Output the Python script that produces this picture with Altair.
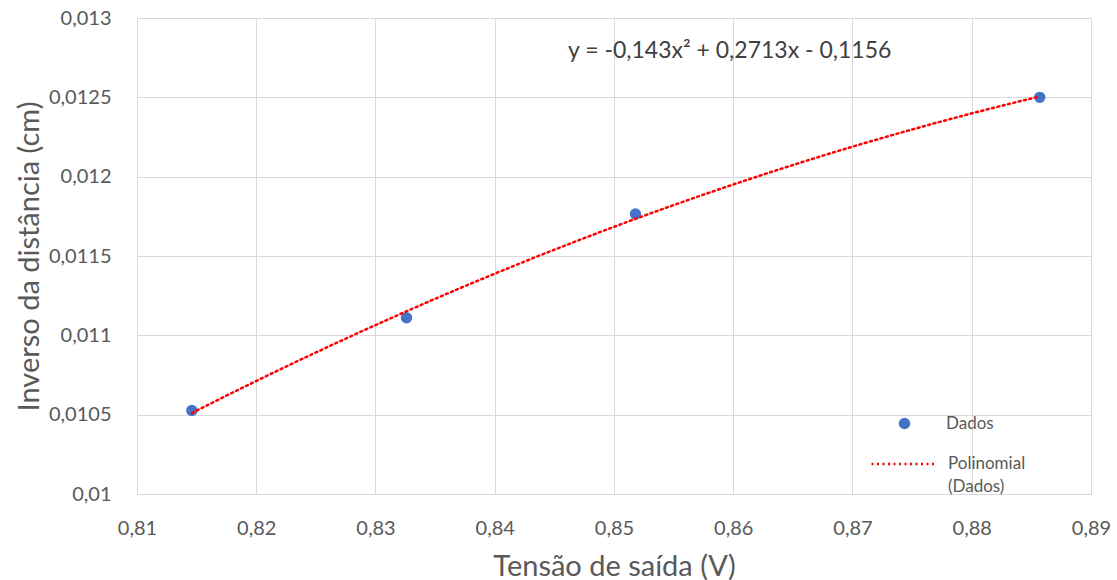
import altair as alt
import pandas as pd

tensao = [0.8146, 0.8326, 0.8518, 0.8857]
inverso = [0.010526, 0.011111, 0.011765, 0.0125]
x_ticks = [0.81, 0.82, 0.83, 0.84, 0.85, 0.86, 0.87, 0.88, 0.89]
y_ticks = [0.01, 0.0105, 0.011, 0.0115, 0.012, 0.0125, 0.013]
equacao = "y = -0,143x² + 0,2713x - 0,1156"
eq_pos = [0.8597, 0.012795]

df = pd.DataFrame({"x": tensao, "y": inverso, "serie": "Dados"})
eq_df = pd.DataFrame({"x": [eq_pos[0]], "y": [eq_pos[1]], "t": [equacao]})

FONT = "Lato"
GRAY = "#595959"

xs = alt.Scale(domain=[0.81, 0.89], nice=False, zero=False)
ys = alt.Scale(domain=[0.01, 0.013], nice=False, zero=False)

xaxis = alt.Axis(values=x_ticks, labelExpr="replace(format(datum.value, '.2f'), '.', ',')",
                 title="Tensão de saída (V)", titleFontSize=29, titleFont=FONT, titleColor=GRAY,
                 titleFontWeight="normal", titlePadding=14,
                 labelFont=FONT, labelFontSize=20, labelColor=GRAY, labelPadding=24, labelFlush=False,
                 ticks=False, grid=True, gridColor="#d9d9d9", domainColor="#d9d9d9")
yaxis = alt.Axis(values=y_ticks, labelExpr="replace(format(datum.value, '.4~f'), '.', ',')",
                 title="Inverso da distância (cm)", titleFontSize=29, titleFont=FONT, titleColor=GRAY,
                 titleFontWeight="normal", titlePadding=4,
                 labelFont=FONT, labelFontSize=20, labelColor=GRAY, labelPadding=26, labelFlush=False,
                 ticks=False, grid=True, gridColor="#d9d9d9", domain=False)

points = alt.Chart(df).mark_circle(size=130, opacity=1).encode(
    x=alt.X("x:Q", scale=xs, axis=xaxis),
    y=alt.Y("y:Q", scale=ys, axis=yaxis),
    color=alt.Color("serie:N", scale=alt.Scale(domain=["Dados"], range=["#4472C4"]),
                    legend=alt.Legend(title=None, orient="none", legendX=759, legendY=397,
                                      symbolSize=130, symbolType="circle", labelFont=FONT,
                                      labelFontSize=17, labelColor=GRAY, labelOffset=33)),
)

trend = alt.Chart(df).transform_regression("x", "y", method="poly", order=2).transform_calculate(
    trend="'Polinomial (Dados)'"
).mark_line(
    color="#FF0000", strokeWidth=2.5, strokeDash=[2, 3.5], strokeCap="round"
).encode(
    x=alt.X("x:Q", scale=xs),
    y=alt.Y("y:Q", scale=ys),
    strokeDash=alt.StrokeDash("trend:N", scale=alt.Scale(domain=["Polinomial (Dados)"], range=[[2, 3.5]]),
                              legend=alt.Legend(title=None, orient="none", legendX=733, legendY=412,
                                                symbolType="stroke", symbolSize=4225, symbolStrokeWidth=2.5,
                                                symbolStrokeColor="#FF0000",
                                                labelFont=FONT, labelFontSize=17, labelColor=GRAY,
                                                labelOffset=10, labelBaseline="middle",
                                                labelExpr="['Polinomial', '(Dados)']")),
)

eq = alt.Chart(eq_df).mark_text(font=FONT, fontSize=23, color="#404040").encode(
    x=alt.X("x:Q", scale=xs), y=alt.Y("y:Q", scale=ys), text="t:N"
)

chart = alt.layer(points, trend, eq).properties(
    width=954, height=476,
    padding={"left": 137, "top": 18, "right": 26, "bottom": 86},
    autosize=alt.AutoSizeParams(type="none"),
    background="white",
).resolve_legend(color="independent", strokeDash="independent").configure(
    style={"guide-label": {"lineHeight": 23}},
    view=alt.ViewConfig(strokeWidth=0),
)

chart.save("out.html", embed_options={"renderer": "svg", "actions": False})
